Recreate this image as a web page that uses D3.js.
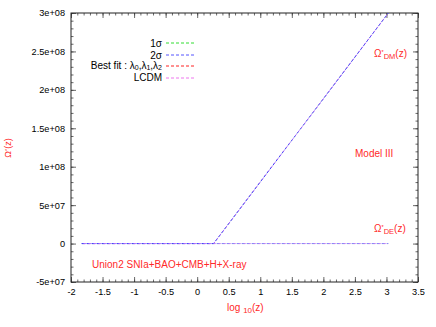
<!DOCTYPE html>
<html><head><meta charset="utf-8">
<script src="https://cdn.jsdelivr.net/npm/d3@7"></script>
<style>body{margin:0;background:#fff}svg{display:block}text{font-family:"Liberation Sans",Arial,sans-serif}</style>
</head><body>
<svg id="c" width="436" height="327"></svg>
<script>
// data
const xTicks = [-2,-1.5,-1,-0.5,0,0.5,1,1.5,2,2.5,3,3.5];
const yTicks = [-5e7,0,5e7,1e8,1.5e8,2e8,2.5e8,3e8];
const yTickLabels = ["-5e+07","0","5e+07","1e+08","1.5e+08","2e+08","2.5e+08","3e+08"];
const dmX = [-1.83, 0.26, 3.03];
const dmY = [0, 0, 3e8];
const deX = [-1.83, 3.03];
const deY = [0, 0];
const seriesNames = ["1σ","2σ","best","LCDM"];
const legendColors = ["#33dd33","#5555ff","#ff2222","#ee77ee"];
const dmColors = ["#33cc33","#4040ff","#ee3333","#aa66ff"];
const deColors = ["#55dd55","#8080ff","#ff5555","#c080f0"];
const drawOrder = [0,2,1,3];
const dashes = ["3,2","3,2","3,2","2,3"];
const offsets = [0,0,0,3];
const lineOpacity = [0.15,1,0.15,1];

const svg = d3.select("#c");
const L=71,R=418,T=13,B=282;
const x = d3.scaleLinear().domain([-2,3.5]).range([L,R]);
const y = d3.scaleLinear().domain([-5e7,3e8]).range([B,T]);
const fs = 9.2;

// axes
const g = svg.append("g");
const xMinor = d3.range(-20,36).map(v=>v/10);
const yMinor = d3.range(-5,31).map(v=>v*1e7);
const ax = [
  d3.axisBottom(x).tickValues(xTicks).tickSize(-5).tickFormat(d=>String(d)),
  d3.axisTop(x).tickValues(xTicks).tickSize(-5).tickFormat(""),
  d3.axisLeft(y).tickValues(yTicks).tickSize(-5).tickFormat((d,i)=>yTickLabels[i]),
  d3.axisRight(y).tickValues(yTicks).tickSize(-5).tickFormat("")
];
const axMinor = [
  d3.axisBottom(x).tickValues(xMinor).tickSize(-2.5).tickFormat(""),
  d3.axisTop(x).tickValues(xMinor).tickSize(-2.5).tickFormat(""),
  d3.axisLeft(y).tickValues(yMinor).tickSize(-2.5).tickFormat(""),
  d3.axisRight(y).tickValues(yMinor).tickSize(-2.5).tickFormat("")
];
const tr = [`translate(0,${B})`,`translate(0,${T})`,`translate(${L},0)`,`translate(${R},0)`];
for(let i=0;i<4;i++){
  const a=g.append("g").attr("transform",tr[i]).call(axMinor[i]);
  a.select(".domain").remove();
  a.selectAll("line").attr("stroke","#444").attr("stroke-width",0.8);
  const b=g.append("g").attr("transform",tr[i]).call(ax[i]);
  b.select(".domain").remove();
  b.selectAll("line").attr("stroke","#444").attr("stroke-width",0.8);
  b.selectAll("text").attr("font-size",fs).attr("fill","#000").attr("font-family","'Liberation Sans',Arial,sans-serif");
  if(i==0) b.selectAll("text").attr("dy","0.95em").attr("y",4);
  if(i==2) b.selectAll("text").attr("x",-6);
}
svg.append("rect").attr("x",L).attr("y",T).attr("width",R-L).attr("height",B-T)
  .attr("fill","none").attr("stroke","#222").attr("stroke-width",1);

// lines
const line = d3.line().x(d=>x(d[0])).y(d=>y(d[1]));
const dm = dmX.map((v,i)=>[v,dmY[i]]);
const de = deX.map((v,i)=>[v,deY[i]]);
for(const k of drawOrder){
  [[de,deColors],[dm,dmColors]].forEach(([data,cols])=>{
    svg.append("path").attr("d",line(data)).attr("fill","none")
      .attr("stroke",cols[k]).attr("stroke-width",1).attr("stroke-opacity",lineOpacity[k])
      .attr("stroke-dasharray",dashes[k]).attr("stroke-dashoffset",offsets[k]);
  });
}

// legend
const legY=[43,55,66,77.5];
const lg=svg.append("g").attr("font-size",10);
function sub(t,s){t.append("tspan").attr("baseline-shift","-20%").attr("font-size",7).text(s);}
const tx=162;
lg.append("text").attr("x",tx).attr("y",legY[0]+3.5).attr("text-anchor","end").text("1σ");
lg.append("text").attr("x",tx).attr("y",legY[1]+3.5).attr("text-anchor","end").text("2σ");
let t2=lg.append("text").attr("x",tx).attr("y",legY[2]+3).attr("text-anchor","end");
t2.append("tspan").text("Best fit : λ"); sub(t2,"0"); t2.append("tspan").text(",λ"); sub(t2,"1"); t2.append("tspan").text(",λ"); sub(t2,"2");
lg.append("text").attr("x",tx).attr("y",legY[3]+3.5).attr("text-anchor","end").text("LCDM");
seriesNames.forEach((n,i)=>{
  svg.append("line").attr("x1",166).attr("x2",194).attr("y1",Math.round(legY[i])).attr("y2",Math.round(legY[i]))
    .attr("stroke",legendColors[i]).attr("stroke-width",1).attr("stroke-dasharray","3,2");
});

// labels
const red="#ff2a2a";
function omega(xp,yp,s){
  const t=svg.append("text").attr("x",xp).attr("y",yp).attr("fill",red).attr("font-size",10);
  t.append("tspan").text("Ω");
  t.append("tspan").attr("baseline-shift","45%").attr("font-size",5.5).text("*");
  t.append("tspan").attr("baseline-shift","-30%").attr("font-size",7.5).text(s);
  t.append("tspan").text("(z)");
}
omega(374,57,"DM");
omega(374,232,"DE");
svg.append("text").attr("x",355).attr("y",157).attr("fill",red).attr("font-size",10).text("Model III");
svg.append("text").attr("x",92).attr("y",268).attr("fill",red).attr("font-size",10).text("Union2 SNIa+BAO+CMB+H+X-ray");
const xl=svg.append("text").attr("x",227).attr("y",311).attr("fill",red).attr("font-size",10);
xl.append("tspan").text("log ");
xl.append("tspan").attr("baseline-shift","-30%").attr("font-size",8).text("10");
xl.append("tspan").text("(z)");
const yl=svg.append("text").attr("transform","translate(11,148) rotate(-90)").attr("text-anchor","middle").attr("fill",red).attr("font-size",9);
yl.append("tspan").text("Ω");
yl.append("tspan").attr("baseline-shift","40%").attr("font-size",5.5).text("*");
yl.append("tspan").text("(z)");
</script>
</body></html>
